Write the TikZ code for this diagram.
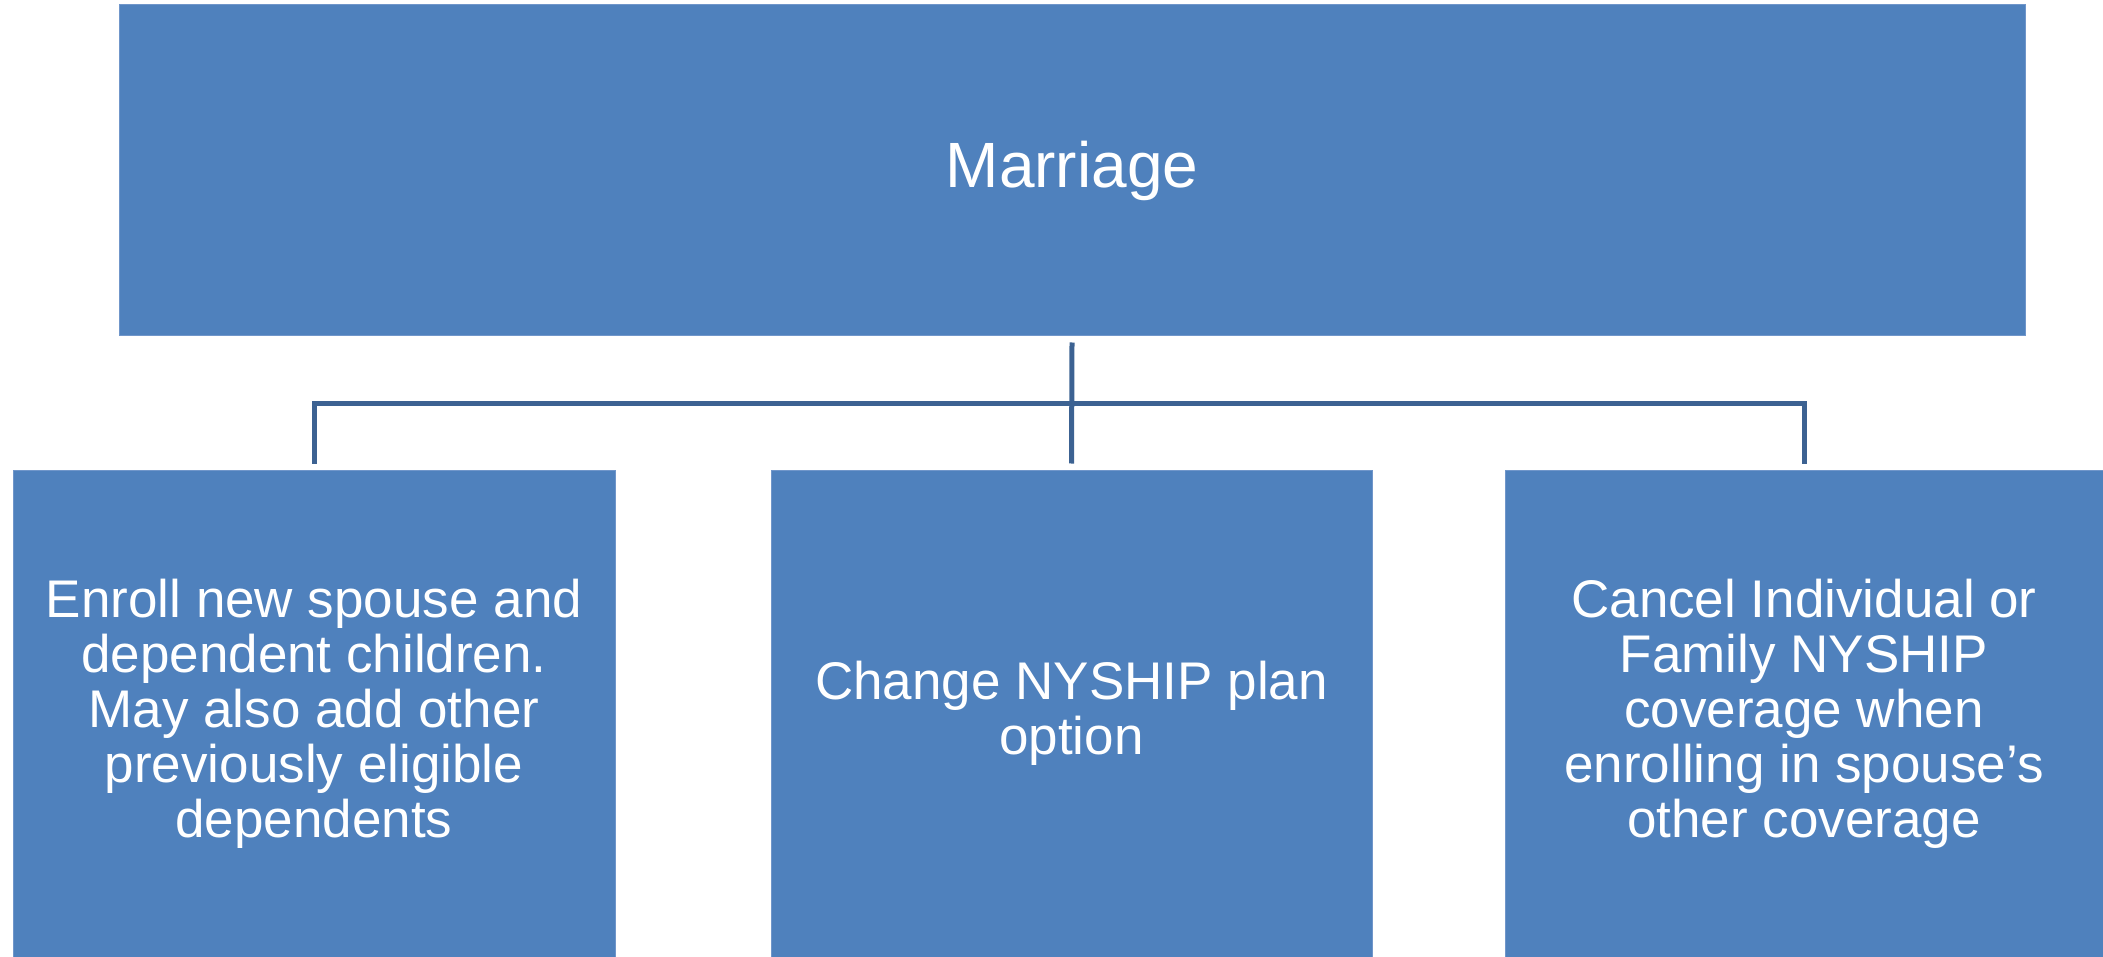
\documentclass[tikz,border=0pt]{standalone}
\usepackage{fontspec}
\setmainfont{Liberation Sans}
\definecolor{boxblue}{RGB}{79,129,189}
\definecolor{boxedge}{RGB}{112,150,202}
\definecolor{linkblue}{RGB}{60,98,146}
\begin{document}
\begin{tikzpicture}[x=1pt,y=-1pt,
  topbox/.style={rectangle, fill=boxblue, draw=boxedge, line width=1pt, inner sep=0pt,
    minimum width=1906pt, minimum height=331pt, text=white, font=\fontsize{64}{70}\selectfont},
  leafbox/.style={rectangle, fill=boxblue, draw=boxedge, line width=1pt, inner sep=0pt,
    minimum height=487pt, text=white, align=center, font=\fontsize{53}{55}\selectfont},
  conn/.style={draw=linkblue, line width=5pt, line join=miter, line cap=butt}]
\useasboundingbox (0,0) rectangle (2103,957);
\node[topbox] (m) at (1072,170.5) {Marriage};
\node[leafbox, minimum width=602pt] (a) at (314,713.5) {Enroll new spouse and\\dependent children.\\May also add other\\previously eligible\\dependents};
\node[leafbox, minimum width=601pt] (b) at (1071.5,713.5) {Change NYSHIP plan\\option};
\node[leafbox, minimum width=598pt] (c) at (1804,713.5) {Cancel Individual or\\Family NYSHIP\\coverage when\\enrolling in spouse’s\\other coverage};
\draw[conn] ([yshift=-6pt]m.south) -- ([yshift=6pt]b.north);
\draw[conn] ([yshift=6pt]a.north) -- ([yshift=66.5pt]a.north) -- ([yshift=66.5pt]c.north) -- ([yshift=6pt]c.north);
\end{tikzpicture}
\end{document}
